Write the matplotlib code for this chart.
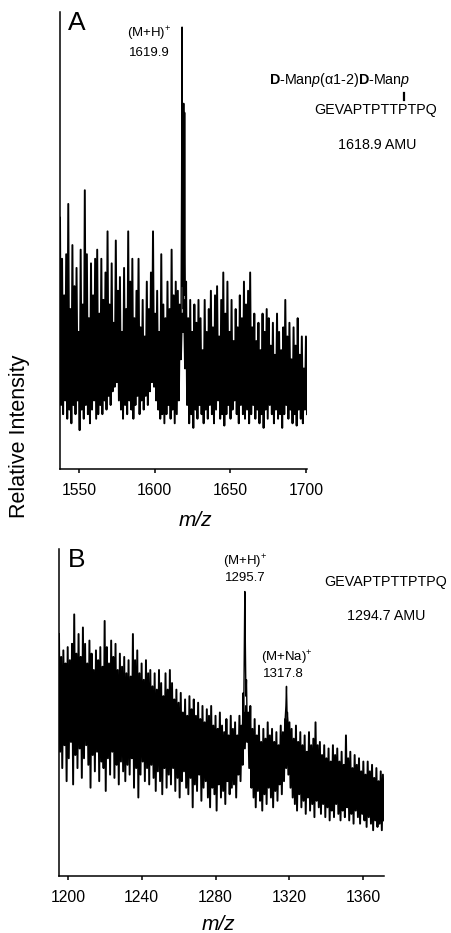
import numpy as np
import matplotlib
matplotlib.use('Agg')
import matplotlib.pyplot as plt
from matplotlib.lines import Line2D

plt.rcParams['font.family'] = ['Liberation Sans', 'DejaVu Sans']
plt.rcParams['mathtext.fontset'] = 'custom'
plt.rcParams['mathtext.rm'] = 'Liberation Sans'
plt.rcParams['mathtext.it'] = 'Liberation Sans:italic'
plt.rcParams['mathtext.bf'] = 'Liberation Sans:bold'

W, H = 451, 933

# panel A: glycopeptide, noise read as upper / lower excursions (relative intensity, %)
a_range = (1537.4, 1700.7)
a_ticks = [1550, 1600, 1650, 1700]
a_hi = [55, 46, 38, 47, 58, 35, 49, 40, 44, 30, 48, 36, 61, 47, 33, 45, 38, 46, 48, 34,
        46, 37, 43, 52, 36, 45, 32, 50, 39, 42, 30, 44, 35, 52, 41, 46, 33, 39, 46, 31,
        37, 29, 41, 35, 43, 52, 34, 39, 30, 47, 36, 33, 41, 35, 48, 38, 41, 39, 36, 34,
        37, 41, 33, 37, 30, 36, 32, 37, 33, 26, 37, 30, 35, 39, 31, 38, 40, 29, 37, 43,
        34, 41, 30, 37, 28, 35, 31, 38, 33, 41, 36, 39, 43, 31, 34, 28, 32, 26, 34, 30,
        35, 33, 27, 32, 25, 34, 30, 26, 31, 37, 29, 32, 24, 31, 27, 33, 25, 29, 22, 29]
a_lo = [14, 12, 15, 11, 13, 10, 14, 12, 15, 8.5, 13, 11, 14, 12, 10, 13, 15, 11, 12, 14,
        12, 15, 13, 16, 14, 17, 18, 19, 15, 13, 11, 14, 12, 15, 13, 11, 14, 16, 12, 15,
        13, 16, 14, 17, 19, 18, 15, 13, 11, 12, 10, 12, 14, 11, 13, 10, 12, 15, 24, 30,
        22, 14, 10, 12, 9, 13, 11, 14, 12, 10, 13, 11, 14, 12, 10, 13, 15, 11, 12, 9.5,
        12, 14, 11, 13, 15, 12, 10, 14, 12, 11, 13, 10, 12, 14, 11, 13, 10, 12, 9, 13,
        11, 14, 12, 10, 13, 11, 12, 9, 12, 14, 11, 13, 10, 12, 9.5, 13, 11, 10, 13, 12]
a_peak_mz = [1617.4, 1617.8, 1618.1, 1618.3, 1618.6, 1618.9, 1619.2, 1619.5, 1619.8, 1620.1, 1620.4]
a_peak_int = [30, 62, 96.7, 40, 80, 35, 80, 38, 78, 45, 28]

# panel B: peptide alone
b_range = (1195.1, 1371.4)
b_ticks = [1200, 1240, 1280, 1320, 1360]
b_hi = [74, 67, 69, 65, 70, 66, 71, 80, 68, 74, 67, 76, 71, 65, 72, 68, 63, 69, 66, 70,
        64, 78, 70, 65, 72, 67, 71, 63, 68, 64, 67, 62, 66, 61, 74, 66, 69, 62, 65, 60,
        66, 62, 63, 58, 62, 57, 63, 59, 55, 62, 57, 63, 59, 54, 57, 53, 56, 50, 54, 49,
        55, 51, 54, 49, 53, 48, 52, 47, 51, 49, 52, 46, 49, 45, 50, 46, 44, 48, 43, 49,
        45, 47, 43, 49, 46, 50, 52, 50, 52, 45, 48, 43, 46, 41, 45, 42, 47, 43, 45, 41,
        44, 40, 46, 44, 48, 50, 47, 45, 42, 46, 41, 44, 40, 43, 38, 44, 40, 42, 47, 40,
        41, 37, 40, 36, 39, 35, 40, 37, 39, 35, 38, 34, 43, 36, 38, 33, 37, 34, 36, 32,
        35, 31, 35, 32, 34, 30, 33, 29, 32, 31]
b_lo = [38, 33, 40, 29, 36, 41, 28, 37, 33, 39, 30, 36, 40, 34, 27, 37, 32, 38, 29, 35,
        33, 26, 36, 31, 38, 30, 34, 28, 35, 32, 29, 34, 31, 36, 27, 33, 24, 31, 35, 29,
        33, 28, 34, 30, 26, 32, 29, 25, 33, 27, 31, 28, 33, 26, 30, 24, 29, 32, 27, 25,
        30, 21, 28, 26, 31, 23, 27, 29, 24, 21, 27, 25, 20, 28, 24, 26, 22, 29, 25, 27,
        28, 24, 31, 29, 34, 39, 41, 33, 27, 24, 21, 26, 23, 20, 25, 22, 27, 24, 21, 26,
        23, 28, 25, 29, 33, 31, 27, 24, 22, 20, 25, 21, 23, 19, 24, 20, 22, 18, 23, 21,
        19, 22, 18, 21, 17, 20, 18, 22, 19, 17, 20, 18, 21, 17, 19, 16, 20, 18, 16, 19,
        17, 15, 18, 16, 14, 17, 15, 16, 14, 17]
b_peak1_mz = [1294.6, 1295.0, 1295.3, 1295.6, 1295.9, 1296.2, 1296.5, 1296.8, 1297.2]
b_peak1_int = [44, 56, 48, 68, 87, 70, 55, 60, 45]
b_peak2_mz = [1317.4, 1317.8, 1318.2, 1318.5, 1318.8, 1319.2, 1319.6]
b_peak2_int = [40, 48, 52, 58, 50, 47, 38]


def px(x, y):
    return x / W, 1 - y / H


def spectrum(ax, xr, hi, lo, peaks, ticks):
    n = len(hi)
    mz = np.linspace(xr[0], xr[1], 2 * n)
    inten = np.column_stack([hi, lo]).ravel()
    ax.plot(mz, inten, color='black', lw=1.4)
    for pm, pi in peaks:
        ax.plot(pm, pi, color='black', lw=1.0)
    ax.set_xlim(*xr)
    ax.set_ylim(0, 100)
    ax.set_xticks(ticks)
    ax.set_yticks([])
    for s in ['top', 'right']:
        ax.spines[s].set_visible(False)
    for s in ['left', 'bottom']:
        ax.spines[s].set_linewidth(1.1)
    ax.tick_params(axis='x', direction='out', length=3, width=1.1, pad=7, labelsize=11.3)


fig = plt.figure(figsize=(W / 100, H / 100), dpi=100)

axA = fig.add_axes([60 / W, 1 - 469 / H, 247 / W, 457 / H])
spectrum(axA, a_range, a_hi, a_lo, [(a_peak_mz, a_peak_int)], a_ticks)

axB = fig.add_axes([59 / W, 1 - 876 / H, 325 / W, 327 / H])
spectrum(axB, b_range, b_hi, b_lo, [(b_peak1_mz, b_peak1_int), (b_peak2_mz, b_peak2_int)], b_ticks)

# labels panel A
fig.text(*px(77, 23), 'A', fontsize=19, ha='center', va='center')
fig.text(*px(149, 34), r'(M+H)$^{+}$', fontsize=9.5, ha='center', va='center')
fig.text(*px(149, 53), '1619.9', fontsize=9.5, ha='center', va='center')
fig.text(*px(340, 80), r'$\mathbf{D}$-Man$\mathit{p}$(α1-2)$\mathbf{D}$-Man$\mathit{p}$',
         fontsize=10.3, ha='center', va='center')
fig.add_artist(Line2D([404 / W, 404 / W], [1 - 93 / H, 1 - 100 / H], color='black', lw=1.6))
fig.text(*px(376, 110), 'GEVAPTPTTPTPQ', fontsize=10.3, ha='center', va='center')
fig.text(*px(377, 145), '1618.9 AMU', fontsize=10.3, ha='center', va='center')
fig.text(*px(195, 521), 'm/z', fontsize=15, style='italic', ha='center', va='center')

# labels panel B
fig.text(*px(77, 560), 'B', fontsize=19, ha='center', va='center')
fig.text(*px(245, 562), r'(M+H)$^{+}$', fontsize=9.5, ha='center', va='center')
fig.text(*px(245, 578), '1295.7', fontsize=9.5, ha='center', va='center')
fig.text(*px(287, 658), r'(M+Na)$^{+}$', fontsize=9.5, ha='center', va='center')
fig.text(*px(283, 674), '1317.8', fontsize=9.5, ha='center', va='center')
fig.text(*px(386, 582), 'GEVAPTPTTPTPQ', fontsize=10.3, ha='center', va='center')
fig.text(*px(386, 616), '1294.7 AMU', fontsize=10.3, ha='center', va='center')
fig.text(*px(218, 924), 'm/z', fontsize=15, style='italic', ha='center', va='center')

fig.text(*px(20, 436), 'Relative Intensity', fontsize=15.5, rotation=90, ha='center', va='center')

fig.savefig('out.png', dpi=100)
